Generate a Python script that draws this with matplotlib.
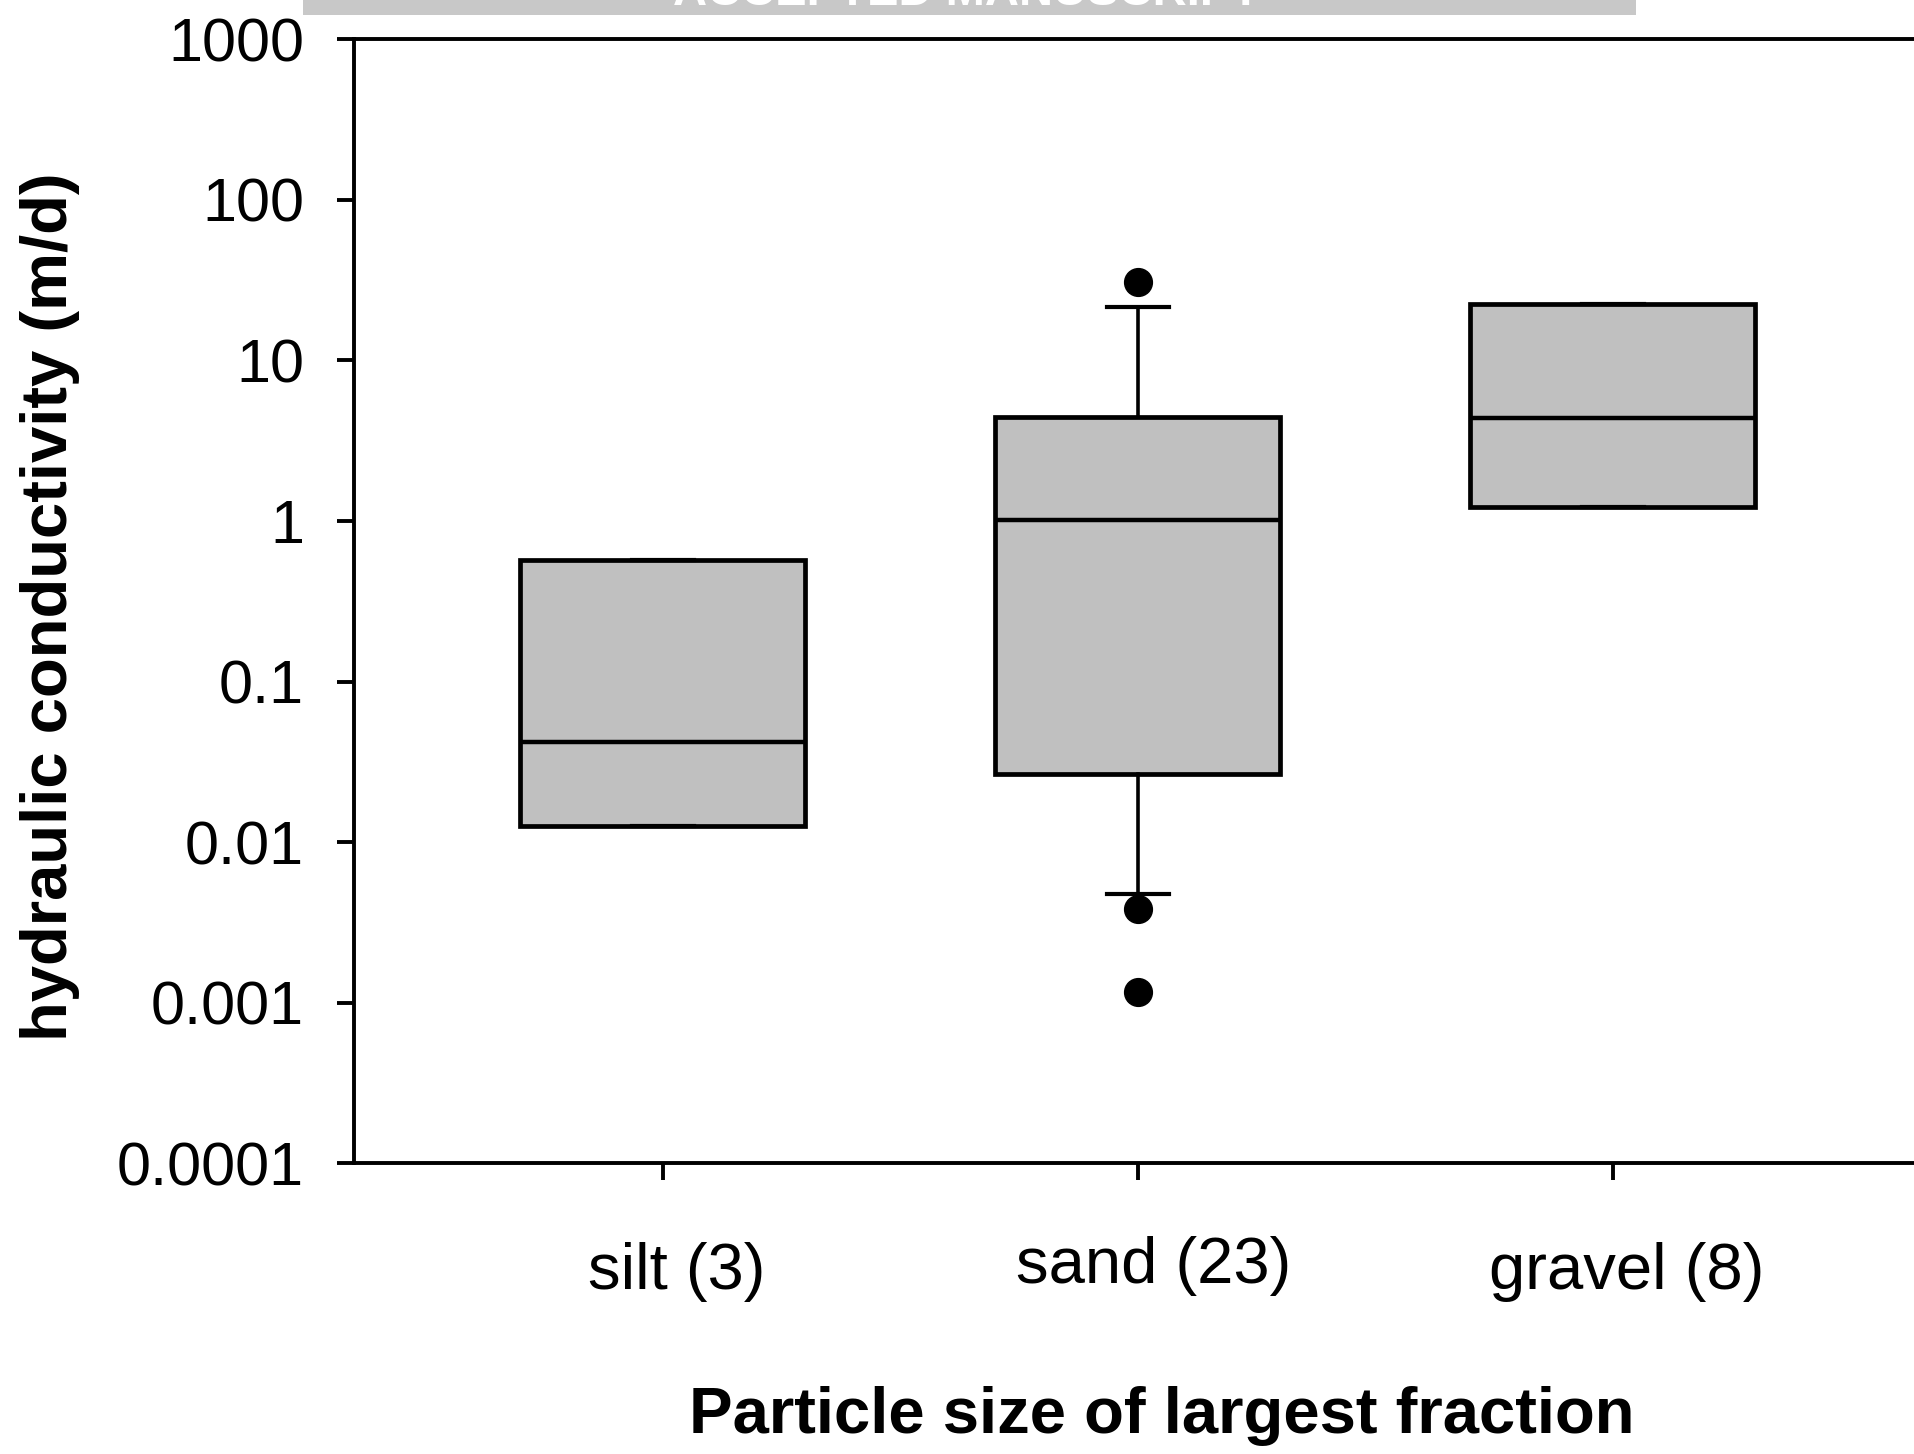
import matplotlib
matplotlib.use('Agg')
import matplotlib.pyplot as plt
import matplotlib.transforms as mtransforms
from matplotlib.patches import Rectangle

plt.rcParams['font.family'] = ['Liberation Sans', 'DejaVu Sans']

# 数据
categories = ['silt (3)', 'sand (23)', 'gravel (8)']
q1 = [0.0126, 0.0267, 1.23]
med = [0.042, 1.02, 4.35]
q3 = [0.571, 4.43, 22.5]
whislo = [0.0126, 0.00473, 1.23]
whishi = [0.571, 21.4, 22.5]
fliers = [[], [30.9, 0.00383, 0.00117], []]

yticks = [0.0001, 0.001, 0.01, 0.1, 1, 10, 100, 1000]
ytick_labels = ['0.0001', '0.001', '0.01', '0.1', '1', '10', '100', '1000']

stats = []
for i, name in enumerate(categories):
    stats.append(dict(label=name, q1=q1[i], med=med[i], q3=q3[i],
                      whislo=whislo[i], whishi=whishi[i], fliers=fliers[i]))

fig = plt.figure(figsize=(19.14, 14.54), dpi=100)
ax = fig.add_axes([0.185, 0.200, 0.819, 0.773])

ax.bxp(stats, positions=[1, 2, 3], widths=0.6, capwidths=0.13,
       patch_artist=True, showcaps=True,
       boxprops=dict(facecolor='#c0c0c0', edgecolor='black', linewidth=3.4),
       medianprops=dict(color='black', linewidth=3.2),
       whiskerprops=dict(color='black', linewidth=2.6),
       capprops=dict(color='black', linewidth=3.0),
       flierprops=dict(marker='o', markerfacecolor='black',
                       markeredgecolor='black', markersize=20))

ax.set_yscale('log')
ax.set_ylim(0.0001, 1000)
ax.set_xlim(0.35, 3.65)
ax.set_yticks(yticks)
ax.set_yticklabels(ytick_labels)
ax.minorticks_off()
ax.set_xticks([1, 2, 3])
ax.set_xticklabels(categories)

for s in ax.spines.values():
    s.set_linewidth(2.8)
ax.tick_params(axis='y', direction='out', length=12, width=2.8,
               labelsize=44, pad=24)
ax.tick_params(axis='x', direction='out', length=12, width=2.8,
               labelsize=47, pad=45)

# 标签位置微调
offs = [(14, 0), (16, 6), (14, 0)]
for lab, (dx, dy) in zip(ax.get_xticklabels(), offs):
    lab.set_transform(lab.get_transform() +
                      mtransforms.ScaledTranslation(dx / 100, dy / 100, fig.dpi_scale_trans))

fig.text(0.607, 0.026, 'Particle size of largest fraction', fontsize=47,
         fontweight='bold', ha='center', va='center')
fig.text(0.026, 0.583, 'hydraulic conductivity (m/d)', fontsize=47,
         fontweight='bold', ha='center', va='center', rotation=90)

# 顶部水印条
fig.patches.append(Rectangle((303 / 1914, 1 - 15 / 1454), (1636 - 303) / 1914, 15 / 1454,
                             transform=fig.transFigure, facecolor='#c8c8c8',
                             edgecolor='none', zorder=0))
fig.text(0.505, 1 - 5 / 1454, 'ACCEPTED MANUSCRIPT', fontsize=34,
         fontweight='bold', color='white', ha='center', va='baseline')

fig.savefig('out.png', dpi=100, facecolor='white')
